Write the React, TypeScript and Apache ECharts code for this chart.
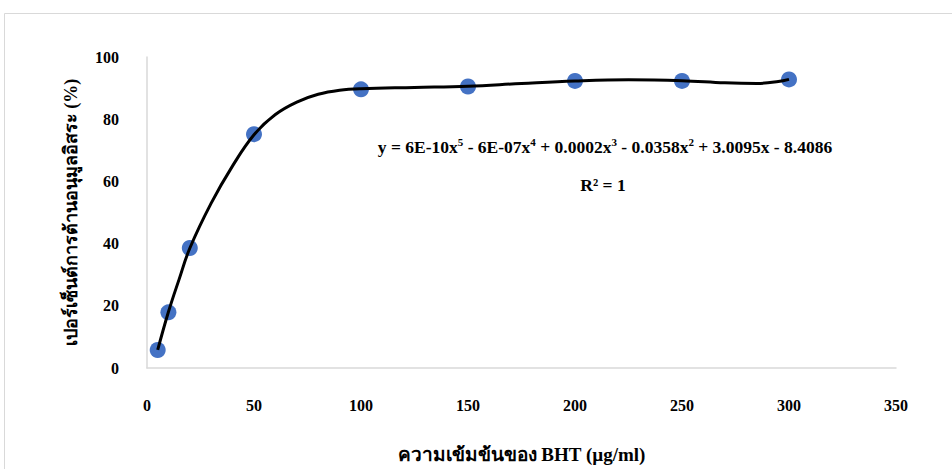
import React, { useEffect, useRef } from "react";
import * as echarts from "echarts";

const concentrations = [5, 10, 20, 50, 100, 150, 200, 250, 300];
const inhibition = [5.8, 17.9, 38.6, 75.2, 89.6, 90.5, 92.3, 92.3, 92.8];

const trendX = [5, 10, 15, 20, 30, 40, 50, 60, 70, 80, 90, 100, 125, 150, 175, 200, 225, 250, 270, 285, 295, 300];
const trendY = [5.8, 18, 28.5, 38.5, 53, 65, 75, 81.5, 85.5, 88, 89.3, 89.8, 90.2, 90.6, 91.5, 92.3, 92.7, 92.4, 91.7, 91.5, 92.1, 92.8];

const xTicks = { min: 0, max: 350, interval: 50 };
const yTicks = { min: 0, max: 100, interval: 20 };

const equationText = "y = 6E-10x{sup|5} - 6E-07x{sup|4} + 0.0002x{sup|3} - 0.0358x{sup|2} + 3.0095x - 8.4086";
const r2Text = "R² = 1";
const xTitle = "ความเข้มข้นของ BHT (µg/ml)";
const yTitle = "เปอร์เซ็นต์การต้านอนุมูลอิสระ (%)";

const serif = "'Liberation Serif', 'Times New Roman', serif";

export default function App() {
  const ref = useRef<HTMLDivElement>(null);
  useEffect(() => {
    if (!ref.current) return;
    const chart = echarts.init(ref.current, null, { renderer: "svg" });
    chart.setOption({
      animation: false,
      backgroundColor: "#ffffff",
      graphic: [
        {
          type: "rect",
          shape: { x: 4.5, y: 13.5, width: 1000, height: 600 },
          style: { fill: "none", stroke: "#d9d9d9", lineWidth: 1 },
          silent: true,
          z: -10,
        },
        {
          type: "text",
          x: 605,
          y: 147,
          style: {
            text: equationText,
            align: "center",
            verticalAlign: "middle",
            font: `bold 17.5px ${serif}`,
            fill: "#000",
            rich: {
              sup: { font: `bold 11px ${serif}`, verticalAlign: "top", padding: [0, 0, 10, 0] },
            },
          },
          z: 100,
        },
        {
          type: "text",
          x: 603,
          y: 185,
          style: {
            text: r2Text,
            align: "center",
            verticalAlign: "middle",
            font: `bold 17.5px ${serif}`,
            fill: "#000",
          },
          z: 100,
        },
      ],
      grid: { left: 147, right: 56, top: 57, bottom: 98, containLabel: false },
      xAxis: {
        type: "value",
        min: xTicks.min,
        max: xTicks.max,
        interval: xTicks.interval,
        name: xTitle,
        nameLocation: "middle",
        nameGap: 77,
        nameTextStyle: { fontFamily: serif, fontWeight: "bold", fontSize: 19, color: "#000" },
        axisLine: { show: true, lineStyle: { color: "#d9d9d9", width: 1.5 } },
        axisTick: { show: false },
        splitLine: { show: false },
        axisLabel: { margin: 29, fontFamily: serif, fontWeight: "bold", fontSize: 16, color: "#000" },
      },
      yAxis: {
        type: "value",
        min: yTicks.min,
        max: yTicks.max,
        interval: yTicks.interval,
        name: yTitle,
        nameLocation: "middle",
        nameGap: 67,
        nameRotate: 90,
        nameTextStyle: { fontFamily: serif, fontWeight: "bold", fontSize: 18, color: "#000" },
        axisLine: { show: true, lineStyle: { color: "#d9d9d9", width: 1.5 } },
        axisTick: { show: false },
        splitLine: { show: false },
        axisLabel: { margin: 28, fontFamily: serif, fontWeight: "bold", fontSize: 16, color: "#000" },
      },
      series: [
        {
          type: "scatter",
          data: concentrations.map((x, i) => [x, inhibition[i]]),
          symbol: "circle",
          symbolSize: 16,
          itemStyle: { color: "#4472C4", opacity: 1 },
          z: 2,
        },
        {
          type: "line",
          data: trendX.map((x, i) => [x, trendY[i]]),
          smooth: 0.4,
          showSymbol: false,
          lineStyle: { color: "#000", width: 3 },
          z: 3,
        },
      ],
    });
    return () => chart.dispose();
  }, []);
  return <div ref={ref} style={{ width: 952, height: 469, position: "absolute", left: 0, top: 0 }} />;
}
